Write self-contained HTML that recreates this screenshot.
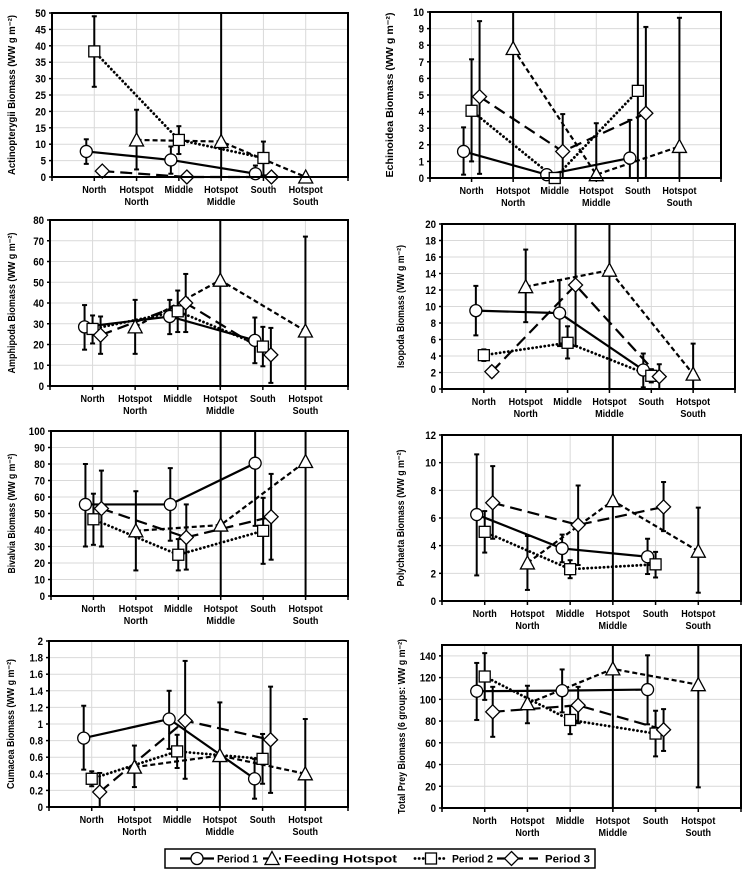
<!DOCTYPE html>
<html><head><meta charset="utf-8"><style>
html,body{margin:0;padding:0;background:#fff;}
svg{display:block;font-family:"Liberation Sans",sans-serif;font-weight:bold;}
</style></head><body>
<svg id="chart" width="746" height="878" viewBox="0 0 746 878" xmlns="http://www.w3.org/2000/svg"></svg>
<script>
const categories = ["North","Hotspot|North","Middle","Hotspot|Middle","South","Hotspot|South"];
const seriesNames = ["Period 1","Feeding Hotspot","Period 2","Period 3"];

// Actinopterygii
const actP1 = [7.8,5.2,1.0];   const actP1Lo = [4,1,0];      const actP1Hi = [11.5,9.3,3.5];
const actHS = [11.3,10.8,0];   const actHSLo = [2.3,0,0];    const actHSHi = [20.5,60,0];
const actP2 = [38.3,11.3,5.8]; const actP2Lo = [27.5,7,0.5]; const actP2Hi = [49,15.5,10.8];
const actP3 = [1.8,0,0];       const actP3Lo = [1.8,0,0];    const actP3Hi = [1.8,0,0];
// Echinoidea
const echP1 = [1.6,0.2,1.2];   const echP1Lo = [0.2,0,0];    const echP1Hi = [3.05,0.2,3.5];
const echHS = [7.8,0.2,1.9];   const echHSLo = [0,0,0];      const echHSHi = [12,3.3,9.65];
const echP2 = [4.05,0,5.25];   const echP2Lo = [1,0,0];      const echP2Hi = [7.15,0,12];
const echP3 = [4.9,1.6,3.9];   const echP3Lo = [0.25,0,0];   const echP3Hi = [9.45,3.85,9.1];
// Amphipoda
const ampP1 = [28.5,33.5,22];  const ampP1Lo = [17.5,25,11]; const ampP1Hi = [39,41.5,33];
const ampHS = [28.5,51,26.5];  const ampHSLo = [15.5,0,0];   const ampHSHi = [41.5,100,72];
const ampP2 = [27.5,36,19];    const ampP2Lo = [20.5,26,9.5];const ampP2Hi = [34,46,28.5];
const ampP3 = [24.5,40,15];    const ampP3Lo = [15.5,26,1.5];const ampP3Hi = [33.5,54,28];
// Isopoda
const isoP1 = [9.5,9.2,2.3];   const isoP1Lo = [6.5,5.2,0.2];const isoP1Hi = [12.5,13.2,4.3];
const isoHS = [12.4,14.4,1.8]; const isoHSLo = [8.1,0,0];    const isoHSHi = [16.9,25,5.5];
const isoP2 = [4.1,5.6,1.6];   const isoP2Lo = [3.4,3.7,0.8];const isoP2Hi = [4.8,7.6,2.4];
const isoP3 = [2.1,12.6,1.5];  const isoP3Lo = [1.5,5.2,0];  const isoP3Hi = [2.7,25,3];
// Bivalvia
const bivP1 = [55.5,55.5,80.5];const bivP1Lo = [30,33.5,42.5];const bivP1Hi = [80,77.5,120];
const bivHS = [39.5,43,81.5];  const bivHSLo = [15.5,0,0];   const bivHSHi = [63.5,120,120];
const bivP2 = [46.5,25,39.5];  const bivP2Lo = [31,15.5,19.5];const bivP2Hi = [62,34.5,59.5];
const bivP3 = [53,35.5,48];    const bivP3Lo = [30,16,22];   const bivP3Hi = [76,55.5,74];
// Polychaeta
const polP1 = [6.25,3.8,3.2];  const polP1Lo = [1.85,2.8,1.95];const polP1Hi = [10.6,4.8,4.5];
const polHS = [2.75,7.25,3.6]; const polHSLo = [0.8,0,0.6];  const polHSHi = [4.7,15,6.75];
const polP2 = [5,2.3,2.65];    const polP2Lo = [3.5,1.65,1.7];const polP2Hi = [6.5,2.95,3.55];
const polP3 = [7.1,5.5,6.8];   const polP3Lo = [4.5,2.6,5.05];const polP3Hi = [9.75,8.35,8.6];
// Cumacea
const cumP1 = [0.83,1.06,0.34];const cumP1Lo = [0.45,0.7,0.1];const cumP1Hi = [1.22,1.4,0.58];
const cumHS = [0.48,0.62,0.4]; const cumHSLo = [0.24,0,0];   const cumHSHi = [0.74,1.26,1.06];
const cumP2 = [0.34,0.67,0.58];const cumP2Lo = [0.25,0.47,0.28];const cumP2Hi = [0.43,0.87,0.88];
const cumP3 = [0.18,1.04,0.81];const cumP3Lo = [0,0.34,0.17];const cumP3Hi = [0.41,1.76,1.45];
// Total prey
const totP1 = [107.5,108,109]; const totP1Lo = [81,88,77];   const totP1Hi = [133.5,127.5,140.5];
const totHS = [96,128,113.5];  const totHSLo = [78,0,19];    const totHSHi = [112.5,200,200];
const totP2 = [121,81,68.5];   const totP2Lo = [99.5,68,47.5];const totP2Hi = [142.5,94,89.5];
const totP3 = [88.5,94.5,72];  const totP3Lo = [65.5,78,52.5];const totP3Hi = [111.5,111.5,91];

const NS = "http://www.w3.org/2000/svg";
const svg = document.getElementById('chart');
function mk(tag, attrs, parent){
  const e = document.createElementNS(NS, tag);
  for (const k in attrs) e.setAttribute(k, attrs[k]);
  (parent||svg).appendChild(e); return e;
}
function condense(t, f){
  const len = t.getComputedTextLength();
  if (len > 0) { t.setAttribute('textLength', (len*f).toFixed(1)); t.setAttribute('lengthAdjust', 'spacingAndGlyphs'); }
}

const panels = [
  {key:'actinopterygii', title:'Actinopterygii Biomass (WW g m⁻²)', tl:160, L:52,R:348,T:13,B:177,max:50,step:5,tmax:50,tx:15,dec:0,
   s:[[actP1,actP1Lo,actP1Hi],[actHS,actHSLo,actHSHi],[actP2,actP2Lo,actP2Hi],[actP3,actP3Lo,actP3Hi]]},
  {key:'echinoidea', title:'Echinoidea Biomass (WW g m⁻²)', tl:165, L:430,R:721,T:12,B:178,max:10,step:1,tmax:10,tx:393,dec:0,
   s:[[echP1,echP1Lo,echP1Hi],[echHS,echHSLo,echHSHi],[echP2,echP2Lo,echP2Hi],[echP3,echP3Lo,echP3Hi]]},
  {key:'amphipoda', title:'Amphipoda Biomass (WW g m⁻²)', tl:141, L:50,R:348,T:220,B:386,max:80,step:10,tmax:80,tx:15,dec:0,
   s:[[ampP1,ampP1Lo,ampP1Hi],[ampHS,ampHSLo,ampHSHi],[ampP2,ampP2Lo,ampP2Hi],[ampP3,ampP3Lo,ampP3Hi]]},
  {key:'isopoda', title:'Isopoda Biomass (WW g m⁻²)', tl:123, L:442,R:735,T:224,B:389,max:20,step:2,tmax:20,tx:404,dec:0,
   s:[[isoP1,isoP1Lo,isoP1Hi],[isoHS,isoHSLo,isoHSHi],[isoP2,isoP2Lo,isoP2Hi],[isoP3,isoP3Lo,isoP3Hi]]},
  {key:'bivalvia', title:'Bivalvia Biomass (WW g m⁻²)', tl:120, L:51,R:348,T:431,B:596,max:100,step:10,tmax:100,tx:15,dec:0,
   s:[[bivP1,bivP1Lo,bivP1Hi],[bivHS,bivHSLo,bivHSHi],[bivP2,bivP2Lo,bivP2Hi],[bivP3,bivP3Lo,bivP3Hi]]},
  {key:'polychaeta', title:'Polychaeta Biomass (WW g m⁻²)', tl:137, L:442,R:741,T:435,B:601,max:12,step:2,tmax:12,tx:404,dec:0,
   s:[[polP1,polP1Lo,polP1Hi],[polHS,polHSLo,polHSHi],[polP2,polP2Lo,polP2Hi],[polP3,polP3Lo,polP3Hi]]},
  {key:'cumacea', title:'Cumacea Biomass (WW g m⁻²)', tl:130, L:49,R:348,T:641,B:807,max:2,step:0.2,tmax:2,tx:14,dec:1,
   s:[[cumP1,cumP1Lo,cumP1Hi],[cumHS,cumHSLo,cumHSHi],[cumP2,cumP2Lo,cumP2Hi],[cumP3,cumP3Lo,cumP3Hi]]},
  {key:'total-prey', title:'Total Prey Biomass (6 groups: WW g m⁻²)', tl:175, L:442,R:741,T:645,B:808,max:150,step:20,tmax:140,tx:405,dec:0,
   s:[[totP1,totP1Lo,totP1Hi],[totHS,totHSLo,totHSHi],[totP2,totP2Lo,totP2Hi],[totP3,totP3Lo,totP3Hi]]}
];

const styles = [
  {dash:null, cap:'butt', w:2.2, off:-8, idx:[0,2,4], shape:'circle'},
  {dash:'5,3', cap:'butt', w:2.2, off:0, idx:[1,3,5], shape:'triangle'},
  {dash:'0.1,4', cap:'round', w:2.8, off:0, idx:[0,2,4], shape:'square'},
  {dash:'12,6', cap:'butt', w:2.2, off:8, idx:[0,2,4], shape:'diamond'}
];

function marker(g, shape, x, y, name){
  let e;
  const a = {fill:'#fff', stroke:'#000', 'stroke-width':1.3};
  if (shape==='circle') e = mk('circle', Object.assign({cx:x, cy:y, r:6}, a), g);
  else if (shape==='square') e = mk('rect', Object.assign({x:x-5.5, y:y-5.5, width:11, height:11}, a), g);
  else if (shape==='diamond') e = mk('polygon', Object.assign({points:`${x},${y-7} ${x+7},${y} ${x},${y+7} ${x-7},${y}`}, a), g);
  else e = mk('polygon', Object.assign({points:`${x},${y-7} ${x+7},${y+6} ${x-7},${y+6}`}, a), g);
  
  
}

panels.forEach(p => {
  const g = mk('g', {});
  
  
  const W = p.R - p.L;
  const xs = i => p.L + (i+1)*W/7;
  const ys = v => p.B - (Math.min(v, p.max)/p.max)*(p.B - p.T);
  const clipId = 'clip-' + p.key;
  const cp = mk('clipPath', {id:clipId}, g);
  mk('rect', {x:p.L-10, y:p.T, width:W+20, height:p.B-p.T+10}, cp);

  const grid = mk('g', {stroke:'#d9d9d9', 'stroke-width':1}, g);
  
  
  for (let v = p.step; v <= p.max + 1e-9; v += p.step) mk('line', {x1:p.L, x2:p.R, y1:ys(v), y2:ys(v)}, grid);
  for (let i = 0; i < 6; i++) mk('line', {x1:xs(i), x2:xs(i), y1:p.T, y2:p.B}, grid);

  const yl = mk('g', {'font-size':11, 'text-anchor':'end', fill:'#000'}, g);
  
  
  for (let k = 0; k*p.step <= p.tmax + 1e-9; k++) {
    const v = k*p.step;
    const t = mk('text', {x:p.L-6, y:ys(v)+4}, yl);
    t.textContent = p.dec ? (Math.round(v*10)/10).toString() : v.toString();
    condense(t, 0.88);
    mk('line', {x1:p.L-3, x2:p.L, y1:ys(v), y2:ys(v), stroke:'#000', 'stroke-width':1.5}, yl);
  }
  const cy = (p.T + p.B)/2;
  const tt = mk('text', {x:p.tx, y:cy, 'font-size':10, 'text-anchor':'middle', transform:`rotate(-90 ${p.tx} ${cy})`, textLength:p.tl, lengthAdjust:'spacingAndGlyphs'}, g);
  tt.textContent = p.title;
  
  

  const xl = mk('g', {'font-size':10.5, 'text-anchor':'middle'}, g);
  
  
  categories.forEach((c, i) => {
    c.split('|').forEach((s, j) => {
      const t = mk('text', {x:xs(i), y:p.B+16+j*12}, xl);
      t.textContent = s;
      condense(t, 0.86);
    });
  });
  for (let i = 0; i <= 7; i++) mk('line', {x1:p.L+i*W/7, x2:p.L+i*W/7, y1:p.B, y2:p.B+4, stroke:'#000', 'stroke-width':1.5}, xl);

  const sg = mk('g', {'clip-path':`url(#${clipId})`}, g);
  p.s.forEach((sd, si) => {
    const st = styles[si];
    const [mean, lo, hi] = sd;
    const ser = mk('g', {}, sg);
    
    
    const pts = mean.map((v, k) => [xs(st.idx[k]) + st.off, ys(v)]);
    const ln = mk('polyline', {points:pts.map(q=>q.join(',')).join(' '), fill:'none', stroke:'#000', 'stroke-width':st.w, 'stroke-linecap':st.cap}, ser);
    if (st.dash) ln.setAttribute('stroke-dasharray', st.dash);
    
    
    mean.forEach((v, k) => {
      const x = pts[k][0];
      if (hi[k] > lo[k]) {
        const eb = mk('g', {stroke:'#000', 'stroke-width':2}, ser);
        
        
        mk('line', {x1:x, x2:x, y1:ys(lo[k]), y2:ys(hi[k])}, eb);
        if (hi[k] <= p.max) mk('line', {x1:x-2.5, x2:x+2.5, y1:ys(hi[k]), y2:ys(hi[k])}, eb);
        if (lo[k] > 0) mk('line', {x1:x-2.5, x2:x+2.5, y1:ys(lo[k]), y2:ys(lo[k])}, eb);
      }
    });
  });
  p.s.forEach((sd, si) => {
    const st = styles[si];
    sd[0].forEach((v, k) => marker(sg, st.shape, xs(st.idx[k]) + st.off, ys(v), p.key + '-marker'));
  });

  const fr = mk('rect', {x:p.L, y:p.T, width:W, height:p.B-p.T, fill:'none', stroke:'#000', 'stroke-width':2}, g);
  
  
});

// legend
const lg = mk('g', {});


mk('rect', {x:165, y:849, width:430, height:19, fill:'#fff', stroke:'#000', 'stroke-width':1.5}, lg);
const legendItems = [
  {x1:180, x2:214, tx:217, tw:41, label:'Period 1'},
  {x1:263, x2:281, tx:284, tw:113, label:'Feeding Hotspot'},
  {x1:415, x2:447, tx:452, tw:41, label:'Period 2'},
  {x1:497, x2:538, tx:545, tw:45, label:'Period 3'}
];
legendItems.forEach((it, i) => {
  const st = styles[i];
  const eg = mk('g', {}, lg);
  
  
  const ln = mk('line', {x1:it.x1, x2:it.x2, y1:858.5, y2:858.5, stroke:'#000', 'stroke-width':st.w, 'stroke-linecap':st.cap}, eg);
  if (st.dash) ln.setAttribute('stroke-dasharray', i===3 ? '10,6' : st.dash);
  marker(eg, st.shape, (it.x1+it.x2)/2 - (i===3?6:0), 858.5, 'legend-marker');
  const t = mk('text', {x:it.tx, y:862.5, 'font-size':11, textLength:it.tw, lengthAdjust:'spacingAndGlyphs'}, eg);
  t.textContent = it.label;
});
</script>
</body></html>
